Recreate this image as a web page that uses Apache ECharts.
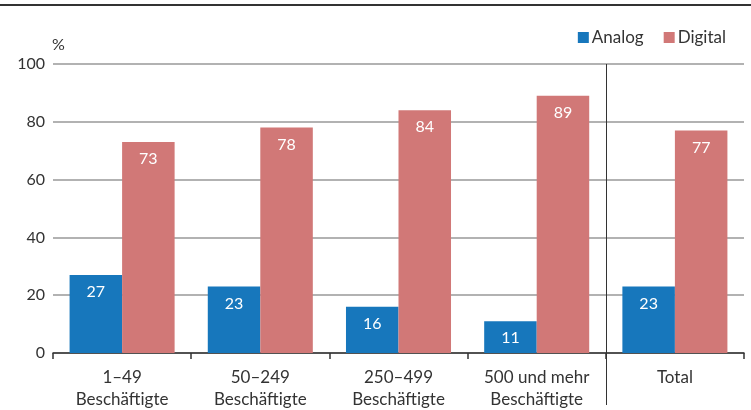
<!DOCTYPE html>
<html><head><meta charset="utf-8">
<script src="https://cdn.jsdelivr.net/npm/echarts@6/dist/echarts.min.js"></script>
<style>html,body{margin:0;padding:0;background:#fff}#c{width:751px;height:410px}</style>
</head><body><div id="c"></div>
<script>
const categories = ['1–49\nBeschäftigte', '50–249\nBeschäftigte', '250–499\nBeschäftigte', '500 und mehr\nBeschäftigte', 'Total'];
const analog = [27, 23, 16, 11, 23];
const digital = [73, 78, 84, 89, 77];
const yTicks = [0, 20, 40, 60, 80, 100];

const FONT = 'Lato';
const chart = echarts.init(document.getElementById('c'));
const labelCfg = {show: true, position: 'insideTop', distance: 9, color: '#fff', fontSize: 16, fontFamily: FONT};
chart.setOption({
  animation: false,
  textStyle: {fontFamily: FONT},
  grid: {left: 53, right: 7, top: 64, bottom: 57, containLabel: false, outerBoundsMode: 'none'},
  legend: {
    data: ['Analog', 'Digital'], right: 20, top: 24, itemWidth: 11, itemHeight: 11, itemGap: 20,
    icon: 'rect', textStyle: {fontSize: 17, color: '#333', fontFamily: FONT, padding: [0, 0, 0, -2]}, selectedMode: false
  },
  xAxis: {
    type: 'category', data: categories,
    axisLine: {lineStyle: {color: '#333', width: 1.5}},
    axisTick: {show: true, length: 6, lineStyle: {color: '#333', width: 1.5}},
    axisLabel: {color: '#333', fontSize: 17, lineHeight: 22, margin: 14, fontFamily: FONT}
  },
  yAxis: {
    type: 'value', min: yTicks[0], max: yTicks[yTicks.length - 1], interval: 20,
    name: '%', nameLocation: 'end', nameGap: 11,
    nameTextStyle: {color: '#333', fontSize: 16, align: 'left', padding: [0, 0, 0, -1], fontFamily: FONT},
    axisLine: {show: false}, axisTick: {show: false},
    axisLabel: {color: '#333', fontSize: 16, margin: 8, fontFamily: FONT},
    splitLine: {lineStyle: {color: '#999', width: 1.5}}
  },
  series: [
    {name: 'Analog', type: 'bar', data: analog, barGap: '0%', barCategoryGap: '24%',
     itemStyle: {color: '#1777BC'}, label: labelCfg},
    {name: 'Digital', type: 'bar', data: digital,
     itemStyle: {color: '#D17877'}, label: labelCfg}
  ]
});
const x3 = chart.convertToPixel({xAxisIndex: 0}, 3);
const x4 = chart.convertToPixel({xAxisIndex: 0}, 4);
const xs = Math.round((x3 + x4) / 2) + 0.5;
const yTop = chart.convertToPixel({yAxisIndex: 0}, 100);
chart.setOption({
  graphic: [
    {type: 'line', shape: {x1: 0, y1: 5, x2: 751, y2: 5}, style: {stroke: '#333', lineWidth: 2}},
    {type: 'line', shape: {x1: xs, y1: yTop, x2: xs, y2: 405}, style: {stroke: '#333', lineWidth: 1}}
  ]
});
</script></body></html>
